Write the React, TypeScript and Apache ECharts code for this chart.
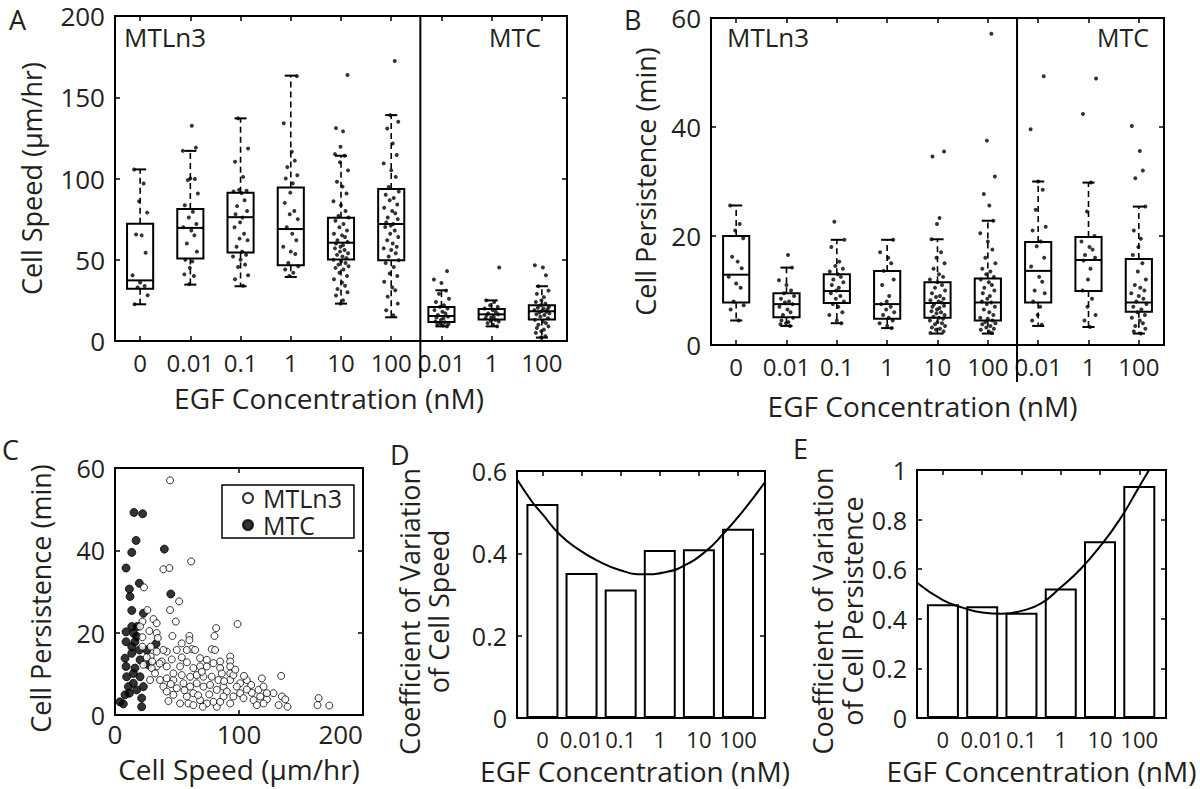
import React, { useEffect, useRef } from 'react';
import * as echarts from 'echarts';

const FONT = '"Open Sans", "Noto Sans", sans-serif';
const INK = '#231f20';

// ---------- categories ----------
const CONC_BOX = ['0', '0.01', '0.1', '1', '10', '100', '0.01', '1', '100'];
const CONC_BAR = ['0', '0.01', '0.1', '1', '10', '100'];
const BOX_POS = [0, 1, 2, 3, 4, 5, 6, 7, 8];
const BAR_POS = [1, 2, 3, 4, 5, 6];
const DIVIDER = 5.58;

// ---------- panel A: cell speed (min, q1, median, q3, max) ----------
const BOX_SPEED = [
  [22.6, 32.2, 37.3, 72.2, 105.6],
  [34.7, 50.7, 69.6, 81.3, 117],
  [33.7, 54.4, 76.2, 91.3, 137],
  [39.4, 46.6, 68.9, 94.5, 163.3],
  [23, 50.1, 60.5, 75.9, 114],
  [14.6, 49.7, 72, 93.5, 139],
  [9, 11.7, 15.4, 20.9, 31.2],
  [9, 13.2, 16.4, 19.7, 25],
  [2.1, 13.2, 18.3, 22, 33.7],
];
const DOTS_SPEED = [
  [105.6, 96.9, 86, 79, 65.5, 65, 54.3, 40.4, 36, 33.8, 33, 28.1, 22.6],
  [132.5, 119, 117, 100, 99.7, 99, 90.8, 83.6, 79.5, 76, 72, 70, 68, 65, 60, 55, 50, 49, 45, 41, 40, 35],
  [137, 118.5, 110.3, 101, 93, 92.5, 92, 91, 86.6, 83, 80, 78, 76, 73, 70, 66, 63, 62, 58, 55, 53, 52, 50, 47, 45.6, 40.4, 38, 34],
  [163, 134, 116.5, 111, 107, 102, 100, 97, 91.3, 85, 80, 78, 75, 70, 66, 62, 58, 55, 53.5, 48, 46, 44, 42, 40],
  [163.7, 131, 129, 119.6, 115, 114, 110, 105, 98, 95, 90.8, 86, 83.6, 80, 77, 76, 74, 72, 70, 68, 66, 65, 64, 62, 61, 60, 59, 58, 57, 56, 55, 54, 53, 52, 51, 50, 49, 48, 47, 46, 45, 44, 42, 40, 38, 36, 34, 32, 30, 28, 25, 23],
  [172.3, 139, 134.9, 130.8, 121.5, 114.4, 109.3, 105, 101, 94.8, 92, 90, 88, 86.6, 84, 82, 80, 78.6, 76, 75, 73, 72, 71, 70.2, 68, 66, 64, 62, 60, 58, 57, 56, 54, 52, 49.7, 48, 45.6, 41.6, 40, 36.5, 33, 31.2, 27.3, 23, 18.9, 15.8],
  [43, 37.8, 35.7, 31, 29, 26, 24, 22, 21, 20, 19, 18, 17, 16, 15, 14.5, 14, 13, 12, 11.5, 11, 10.5, 10, 9.5, 9],
  [45.2, 25, 24, 22, 21, 20, 19, 18, 17, 16.5, 16, 15, 14.5, 14, 13, 12.5, 12, 11, 10, 9],
  [46.6, 45.2, 40.4, 33.7, 31, 29, 27, 25, 24, 23, 22, 21, 20.5, 20, 19.5, 19, 18.5, 18, 17.5, 17, 16.5, 16, 15, 14, 13, 12, 11, 10, 9, 8, 7, 6, 5, 3, 2.1],
];

// ---------- panel B: cell persistence ----------
const BOX_PERS = [
  [4.5, 7.8, 12.9, 20.0, 25.6],
  [3.5, 5.1, 7.5, 9.5, 14.2],
  [4.0, 7.7, 9.9, 13.0, 19.3],
  [3.1, 4.8, 7.5, 13.6, 19.3],
  [2.1, 5.0, 7.7, 11.5, 19.4],
  [2.1, 4.5, 7.8, 12.2, 22.8],
  [3.5, 7.8, 13.6, 18.9, 30.0],
  [3.3, 9.9, 15.6, 19.8, 29.8],
  [2.1, 6.1, 7.8, 15.8, 25.4],
];
const DOTS_PERS = [
  [25.6, 22.2, 21, 19.6, 16.2, 15.3, 14.1, 12.5, 11.3, 10.5, 8, 7.3, 6.5, 4.5],
  [16.5, 14.2, 11.9, 11, 10, 9.5, 9, 8.5, 8, 7.8, 7.5, 7, 6.5, 6, 5.5, 5, 4.5, 4.2, 4, 3.8, 3.5],
  [22.6, 19.3, 18, 15.3, 14.5, 14, 13.5, 13, 12.5, 12, 11.5, 11, 10.5, 10, 9.5, 9, 8.5, 8, 7.5, 7, 6, 5.5, 4.5, 4],
  [19.3, 17, 16, 15, 13.6, 12, 11, 9, 8, 7.5, 7, 6.5, 6, 5.5, 5, 4.5, 4, 3.5, 3.1],
  [35.5, 34.6, 23.3, 22.2, 19.4, 17, 16, 15, 14, 13, 12.5, 12, 11.5, 11, 10.5, 10, 9.5, 9, 8.8, 8.5, 8.2, 8, 7.8, 7.5, 7.2, 7, 6.8, 6.5, 6.2, 6, 5.8, 5.5, 5.2, 5, 4.8, 4.5, 4.2, 4, 3.8, 3.5, 3.2, 3, 2.8, 2.5, 2.2],
  [57.1, 37.5, 30.9, 27.7, 25.6, 22.8, 20.5, 19, 17.5, 16, 15, 14, 13.5, 13, 12.5, 12, 11.5, 11, 10.5, 10, 9.5, 9, 8.5, 8, 7.8, 7.5, 7, 6.5, 6, 5.5, 5, 4.8, 4.5, 4.2, 4, 3.8, 3.5, 3.2, 3, 2.8, 2.5, 2.2],
  [49.3, 39.6, 30, 28.5, 24.8, 21.7, 21, 19, 18.1, 16, 14.4, 12.5, 11.6, 10, 9.5, 8, 7, 5.5, 4.5, 3.7],
  [48.9, 42.4, 29.8, 24.5, 20, 19, 18, 17.5, 16.5, 16, 15.5, 14, 12, 10, 8.5, 7, 5.5, 4.5, 3.3],
  [40.2, 35.6, 32, 30.6, 25.4, 21, 19.5, 18, 16.5, 15, 13.5, 12, 11, 10.5, 10, 9.5, 9, 8.5, 8, 7.5, 7, 6.5, 6, 5.5, 5, 4.5, 4, 3.5, 3, 2.5, 2.1],
];
// horizontal spread of the dots around each group (fixed pattern)
const JITTER = [-0.12, 0.07, -0.02, 0.14, -0.08, 0.03, 0.11, -0.15, 0.0, 0.09, -0.05, 0.15, -0.11, 0.05, -0.03, 0.12, -0.14, 0.02, 0.08, -0.07, 0.13, -0.1, 0.04, -0.01];

// ---------- panel C: speed vs persistence ----------
const C_MTLN3 = [
  [44.4, 57], [61.4, 37.3], [39, 35.4], [43.9, 35.7], [23.4, 31], [51.7, 27.6], [44.4, 25.5], [26.1, 25.5],
  [31, 23.3], [33.6, 22.3], [49, 22.7], [22.1, 22.7], [20.2, 21.5], [98.8, 22.1], [81.6, 21.1], [80.2, 19.2],
  [60, 19.2], [60, 18.2], [53.8, 17.4], [46.3, 19.2], [27.7, 20.4], [33.6, 19.9], [78, 16], [62, 16],
  [57.9, 15.8], [49.8, 15.8], [41.7, 15.4], [39, 15.8], [33.6, 15.4], [28.8, 14.2], [25.6, 14], [92.9, 14.2],
  [68.6, 13.8], [74, 13.4], [84.8, 13], [53.8, 14], [45.8, 13.5], [37.7, 13], [33.6, 11.8], [29.6, 11.4],
  [22.9, 12.2], [41.7, 11.8], [52.5, 11.8], [63.2, 11.4], [74, 11.8], [84.8, 11.4], [92.9, 13], [92.9, 11.8],
  [92.9, 10.1], [92.9, 8.5], [118.4, 8.9], [134, 9.5], [127.8, 5.3], [134.6, 4.5], [137.3, 3.8], [132, 2.4],
  [139.1, 2], [164.2, 4.1], [163.3, 2.4], [172.8, 2.3], [122.5, 3.8], [119.8, 2.8], [117.1, 4.5], [110.3, 5.4],
  [109.8, 7.3], [106.3, 6.2], [100.9, 7.7], [98.2, 6.9], [95.5, 4.5], [92.9, 2.8], [111.7, 3.6], [114.4, 2.4],
  [82.1, 2], [79.4, 3.2], [74, 2.8], [68.6, 3.6], [63.2, 5.3], [57.9, 4.5], [52.5, 2.8], [59.2, 2.8],
  [43.1, 3.4], [39, 6.9], [36.3, 8.5], [41.7, 8.9], [47.1, 8.5], [49.8, 6.5], [55.2, 7.7], [60.6, 6.9],
  [65.9, 7.7], [71.3, 6.9], [76.7, 7.3], [82.1, 6.1], [87.5, 6.9], [83.4, 8.5], [78, 9.3], [71.3, 9.3],
  [65.9, 9.7], [60.6, 9.3], [53.8, 9.7], [47.1, 10.1], [32.3, 10.1], [28.3, 8.5], [41.7, 5.7], [47.1, 4.9],
  [64.6, 15.8], [68.6, 11.8], [79.4, 12.6], [100.9, 5.3], [103.6, 4.1], [90.2, 5.7], [87.5, 4.5], [84.8, 3.2],
  [63.2, 2.4], [70.8, 2], [34.5, 18.7], [28.8, 16.6], [22.1, 18.9], [22.1, 16.6], [80.7, 15.8], [86.1, 10.1],
  [95.5, 9.7], [106.3, 8.5], [115.7, 6.1], [122.5, 5.3], [119.8, 6.9], [36, 12.5], [58, 12.8], [70, 10.5],
  [76, 5], [88, 8.2], [97, 11], [104, 9.5], [56, 6], [67, 4.8], [30, 13], [45, 7.5],
];
const C_MTC = [
  [15.3, 49.2], [22.3, 48.9], [17, 42.4], [13.5, 39.5], [39.8, 40.3], [8.9, 35.7], [19.6, 32], [11.6, 30.6],
  [12.1, 28.8], [45, 29.4], [13.5, 25.4], [22.9, 24.7], [8.9, 20.2], [14.8, 19.9], [17.5, 19.1], [16.1, 17.8],
  [8.9, 17.8], [13.5, 16.6], [19.6, 15.8], [8.1, 13.8], [25.6, 15.8], [33.1, 17.3], [13.5, 15], [8.9, 11.8],
  [16.1, 11.4], [9.4, 9.3], [20.2, 9.3], [14.8, 7.7], [10.8, 6.9], [17.5, 6.1], [22.9, 6.9], [8.1, 4.9],
  [4, 3.2], [6.7, 2.7], [21.5, 2], [21.5, 4.1], [11.6, 5.3], [14.8, 10.1], [20.2, 13.4], [26.9, 12.2],
  [18, 21.5], [13.5, 21.5],
];

// ---------- panels D, E: coefficient of variation ----------
const CV_SPEED = [0.52, 0.352, 0.312, 0.408, 0.41, 0.46];
const CV_PERS = [0.459, 0.451, 0.424, 0.522, 0.713, 0.935];
const FIT_SPEED = [
  [0.35, 0.58], [0.73, 0.526], [1.0, 0.495], [1.43, 0.447], [1.88, 0.412], [2.39, 0.383], [2.99, 0.359],
  [3.58, 0.349], [4.18, 0.355], [4.6, 0.369], [5.15, 0.403], [5.62, 0.447], [6.13, 0.503], [6.69, 0.573],
];
const FIT_PERS = [
  [0.34, 0.545], [1.0, 0.475], [1.5, 0.445], [2.0, 0.425], [2.5, 0.42], [3.0, 0.432], [3.5, 0.462],
  [4.0, 0.527], [4.5, 0.6], [5.0, 0.692], [5.5, 0.8], [6.0, 0.933], [6.25, 1.0],
];

// ---------- helpers ----------
const tick = () => ({ show: true, inside: true, length: 5, lineStyle: { color: '#000', width: 1.5 } });
const NO_LINE = { show: false, onZero: false };

function pairX(gridIndex: number, cfg: any) {
  const base: any = {
    gridIndex, type: 'value', min: cfg.min, max: cfg.max,
    splitLine: { show: false }, axisLine: NO_LINE,
  };
  if (cfg.interval !== undefined) base.interval = cfg.interval;
  const t: any = tick();
  if (cfg.ticks) t.customValues = cfg.ticks;
  const label: any = {
    show: true, color: INK, fontFamily: FONT, fontSize: cfg.labelSize, lineHeight: cfg.labelSize,
    margin: cfg.labelMargin ?? 9, hideOverlap: false, showMinLabel: true, showMaxLabel: true,
  };
  if (cfg.alignMax) label.alignMaxLabel = cfg.alignMax;
  if (cfg.ticks) label.customValues = cfg.ticks;
  if (cfg.labels) label.formatter = (v: number) => cfg.labels[Math.round(v - cfg.ticks[0])];
  const t2: any = tick();
  if (cfg.ticks) t2.customValues = cfg.ticks;
  return [
    {
      ...base, position: 'bottom', axisTick: t, axisLabel: label,
      name: cfg.name, nameLocation: 'middle', nameGap: cfg.nameGap,
      nameTextStyle: { color: INK, fontFamily: FONT, fontSize: 28, lineHeight: 30, padding: cfg.namePad ?? 0 },
    },
    { ...base, position: 'top', axisTick: t2, axisLabel: { show: false } },
  ];
}

function pairY(gridIndex: number, cfg: any) {
  const base: any = {
    gridIndex, type: 'value', min: cfg.min, max: cfg.max, interval: cfg.interval,
    splitLine: { show: false }, axisLine: NO_LINE,
  };
  return [
    {
      ...base, position: 'left', axisTick: tick(),
      axisLabel: {
        color: INK, fontFamily: FONT, fontSize: cfg.labelSize, lineHeight: cfg.labelSize, margin: 10,
        formatter: (v: number) => String(Math.round(v * 10) / 10),
      },
      name: cfg.name, nameLocation: 'middle', nameGap: cfg.nameGap, nameRotate: 90,
      nameTextStyle: {
        color: INK, fontFamily: FONT, fontSize: cfg.nameSize ?? 27, lineHeight: cfg.nameLine ?? 32,
        padding: cfg.namePad ?? 0,
      },
    },
    { ...base, position: 'right', axisTick: tick(), axisLabel: { show: false } },
  ];
}

function boxItem(_params: any, api: any) {
  const x = api.value(0);
  const unit = api.size([1, 0])[0];
  const hw = unit * 0.26;
  const cw = unit * 0.12;
  const pLo = api.coord([x, api.value(1)]);
  const cx = pLo[0];
  const yLo = pLo[1];
  const yQ1 = api.coord([x, api.value(2)])[1];
  const yMed = api.coord([x, api.value(3)])[1];
  const yQ3 = api.coord([x, api.value(4)])[1];
  const yHi = api.coord([x, api.value(5)])[1];
  const solid = { stroke: '#000', lineWidth: 2, fill: 'none' };
  const dashed = { stroke: '#000', lineWidth: 1.6, fill: 'none', lineDash: [6, 4] };
  return {
    type: 'group',
    children: [
      { type: 'polyline', shape: { points: [[cx, yQ3], [cx, yHi]] }, style: dashed },
      { type: 'polyline', shape: { points: [[cx, yQ1], [cx, yLo]] }, style: dashed },
      { type: 'polyline', shape: { points: [[cx - cw, yHi], [cx + cw, yHi]] }, style: solid },
      { type: 'polyline', shape: { points: [[cx - cw, yLo], [cx + cw, yLo]] }, style: solid },
      { type: 'rect', shape: { x: cx - hw, y: yQ3, width: 2 * hw, height: yQ1 - yQ3 }, style: solid },
      { type: 'polyline', shape: { points: [[cx - hw, yMed], [cx + hw, yMed]] }, style: solid },
    ],
  };
}

function dividerItem(params: any, api: any) {
  const cs = params.coordSys;
  const px = api.coord([api.value(0), 0])[0];
  return {
    type: 'polyline',
    shape: { points: [[px, cs.y], [px, cs.y + cs.height + 37]] },
    style: { stroke: '#000', lineWidth: 2, fill: 'none' },
  };
}

function dots(groups: number[][]) {
  const out: number[][] = [];
  groups.forEach((vals, g) => {
    vals.forEach((v, k) => out.push([g + JITTER[(k + g * 5) % JITTER.length], v]));
  });
  return out;
}

function label(text: string, x: number, y: number, size: number, align = 'left') {
  return {
    type: 'text', x, y, z: 100,
    style: { text, fill: INK, font: `${size}px ${FONT}`, textAlign: align, textVerticalAlign: 'middle' },
  };
}

export default function App() {
  const ref = useRef<HTMLDivElement>(null);
  useEffect(() => {
    document.body.style.margin = '0';
    if (!ref.current) return;
    const chart = echarts.init(ref.current, undefined, { renderer: 'svg' });
    const gridStyle = { show: true, borderColor: '#000', borderWidth: 2, backgroundColor: 'transparent' };
    const option: any = {
      animation: false,
      backgroundColor: '#fff',
      textStyle: { fontFamily: FONT },
      grid: [
        { ...gridStyle, left: 115, top: 16, width: 452, height: 325 },
        { ...gridStyle, left: 711, top: 18, width: 453, height: 327 },
        { ...gridStyle, left: 115, top: 468, width: 248, height: 247 },
        { ...gridStyle, left: 517, top: 471, width: 248, height: 247 },
        { ...gridStyle, left: 917, top: 470, width: 249, height: 248 },
      ],
      xAxis: [
        ...pairX(0, { min: -0.5, max: 8.5, ticks: BOX_POS, labels: CONC_BOX, labelSize: 24, name: 'EGF Concentration (nM)', nameGap: 42, namePad: [0, 24, 0, 0] }),
        ...pairX(1, { min: -0.5, max: 8.5, ticks: BOX_POS, labels: CONC_BOX, labelSize: 24, name: 'EGF Concentration (nM)', nameGap: 46, namePad: [0, 30, 0, 0] }),
        ...pairX(2, { min: 0, max: 200, interval: 100, labelSize: 26, name: 'Cell Speed (\u03bcm/hr)', nameGap: 39, labelMargin: 6, alignMax: 'right' }),
        ...pairX(3, { min: 0.35, max: 6.69, ticks: BAR_POS, labels: CONC_BAR, labelSize: 22, name: 'EGF Concentration (nM)', nameGap: 38, labelMargin: 10, namePad: [0, 12, 0, 0] }),
        ...pairX(4, { min: 0.34, max: 6.68, ticks: BAR_POS, labels: CONC_BAR, labelSize: 22, name: 'EGF Concentration (nM)', nameGap: 38, labelMargin: 10 }),
      ],
      yAxis: [
        ...pairY(0, { min: 0, max: 200, interval: 50, labelSize: 26, name: 'Cell Speed (\u03bcm/hr)', nameGap: 68 }),
        ...pairY(1, { min: 0, max: 60, interval: 20, labelSize: 26, name: 'Cell Persistence (min)', nameGap: 50 }),
        ...pairY(2, { min: 0, max: 60, interval: 20, labelSize: 25, name: 'Cell Persistence (min)', nameGap: 59, namePad: [0, 14, 0, 0] }),
        ...pairY(3, { min: 0, max: 0.6, interval: 0.2, labelSize: 25, name: 'Coefficient of Variation\nof Cell Speed', nameGap: 64, nameLine: 29, namePad: [0, 34, 0, 0] }),
        ...pairY(4, { min: 0, max: 1, interval: 0.2, labelSize: 25, name: 'Coefficient of Variation\nof Cell Persistence', nameGap: 50, nameLine: 30, namePad: [0, 34, 0, 0] }),
      ],
      legend: {
        show: true, orient: 'vertical', left: 222, top: 485,
        data: ['MTLn3', 'MTC'],
        borderColor: '#000', borderWidth: 1.5, backgroundColor: '#fff',
        padding: [0, 12, 0, 20], itemGap: 1, itemWidth: 10, itemHeight: 10,
        textStyle: { color: INK, fontFamily: FONT, fontSize: 25, lineHeight: 26, padding: [0, 0, 0, 5] },
      },
      series: [
        // panel A
        { type: 'custom', xAxisIndex: 0, yAxisIndex: 0, renderItem: boxItem, silent: true,
          data: BOX_SPEED.map((b, i) => [BOX_POS[i], ...b]) },
        { type: 'scatter', xAxisIndex: 0, yAxisIndex: 0, symbolSize: 4, itemStyle: { color: '#000' }, silent: true,
          data: dots(DOTS_SPEED) },
        { type: 'custom', xAxisIndex: 0, yAxisIndex: 0, renderItem: dividerItem, clip: false, silent: true,
          data: [[DIVIDER, 0]] },
        // panel B
        { type: 'custom', xAxisIndex: 2, yAxisIndex: 2, renderItem: boxItem, silent: true,
          data: BOX_PERS.map((b, i) => [BOX_POS[i], ...b]) },
        { type: 'scatter', xAxisIndex: 2, yAxisIndex: 2, symbolSize: 4, itemStyle: { color: '#000' }, silent: true,
          data: dots(DOTS_PERS) },
        { type: 'custom', xAxisIndex: 2, yAxisIndex: 2, renderItem: dividerItem, clip: false, silent: true,
          data: [[DIVIDER, 0]] },
        // panel C
        { name: 'MTC', type: 'scatter', xAxisIndex: 4, yAxisIndex: 4, symbol: 'circle', symbolSize: 8,
          itemStyle: { color: '#000', borderColor: '#000', borderWidth: 1 }, data: C_MTC },
        { name: 'MTLn3', type: 'scatter', xAxisIndex: 4, yAxisIndex: 4, symbol: 'circle', symbolSize: 7,
          itemStyle: { color: '#fff', borderColor: '#000', borderWidth: 1 }, data: C_MTLN3 },
        // panel D
        { type: 'bar', xAxisIndex: 6, yAxisIndex: 6, barWidth: 32, silent: true,
          itemStyle: { color: '#fff', borderColor: '#000', borderWidth: 2 },
          data: CV_SPEED.map((v, i) => [BAR_POS[i], v]) },
        { type: 'line', xAxisIndex: 6, yAxisIndex: 6, smooth: true, showSymbol: false, silent: true,
          lineStyle: { color: '#000', width: 2 }, data: FIT_SPEED },
        // panel E
        { type: 'bar', xAxisIndex: 8, yAxisIndex: 8, barWidth: 32, silent: true,
          itemStyle: { color: '#fff', borderColor: '#000', borderWidth: 2 },
          data: CV_PERS.map((v, i) => [BAR_POS[i], v]) },
        { type: 'line', xAxisIndex: 8, yAxisIndex: 8, smooth: true, showSymbol: false, silent: true,
          lineStyle: { color: '#000', width: 2 }, data: FIT_PERS },
      ],
      graphic: [
        label('A', 9, 19, 27),
        label('B', 624, 19, 27),
        label('C', 2, 449, 27),
        label('D', 390, 454, 27),
        label('E', 793, 448, 27),
        label('MTLn3', 124, 37, 26),
        label('MTC', 541, 37, 25, 'right'),
        label('MTLn3', 727, 37, 26),
        label('MTC', 1149, 37, 25, 'right'),
      ],
    };
    chart.setOption(option);
    return () => chart.dispose();
  }, []);
  return <div ref={ref} style={{ width: 1200, height: 789, background: '#fff' }} />;
}
